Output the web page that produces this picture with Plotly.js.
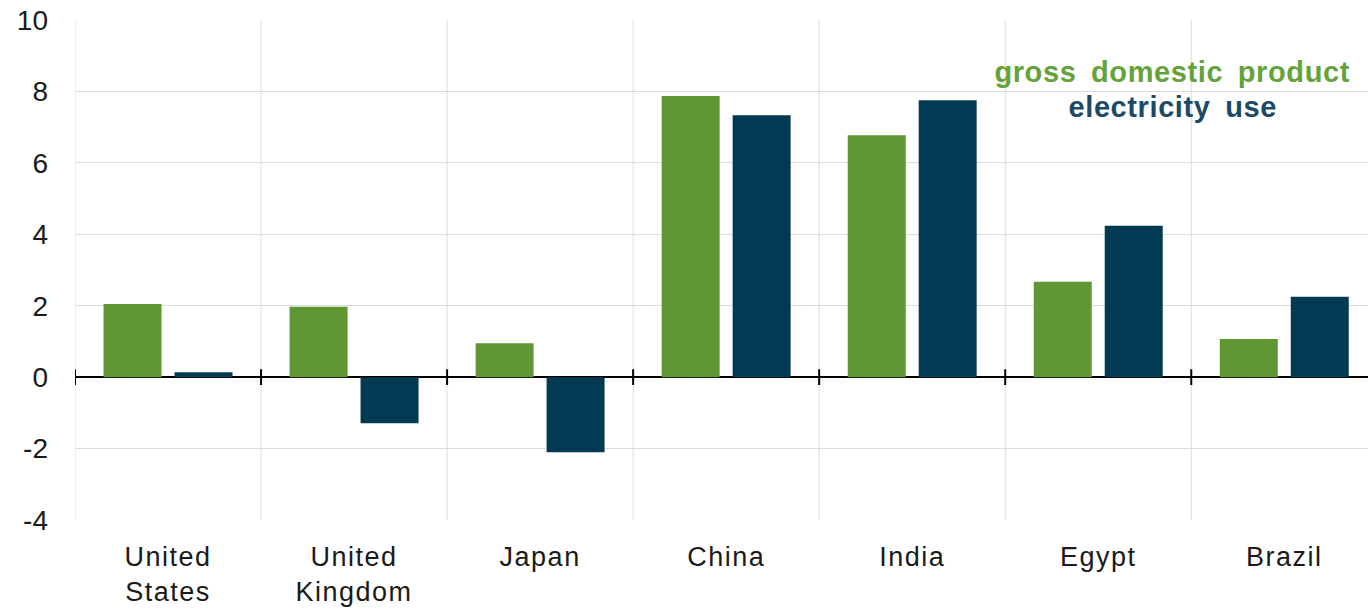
<!DOCTYPE html>
<html>
<head>
<meta charset="utf-8">
<script src="https://cdn.plot.ly/plotly-3.0.1.min.js"></script>
<style>
html,body{margin:0;padding:0;background:#fff;}
#chart{width:1368px;height:614px;}
#chart .xtick text{letter-spacing:1.5px;}
#chart .annotation-text{letter-spacing:0.6px;word-spacing:6px;}
</style>
</head>
<body>
<div id="chart"></div>
<script>
var categories = ["United<br>States", "United<br>Kingdom", "Japan", "China", "India", "Egypt", "Brazil"];
var gdpValues = [2.05, 1.97, 0.95, 7.87, 6.77, 2.67, 1.07];
var electricityValues = [0.14, -1.29, -2.1, 7.33, 7.75, 4.24, 2.25];
var yTicks = [-4, -2, 0, 2, 4, 6, 8, 10];
var seriesNames = ["gross domestic product", "electricity use"];

var green = "#5e9733";
var navy = "#023a54";

var idx = categories.map(function(c, i){ return i; });

var traces = [
  {type: "bar", x: idx, y: gdpValues, name: seriesNames[0], marker: {color: green}, hoverinfo: "y"},
  {type: "bar", x: idx, y: electricityValues, name: seriesNames[1], marker: {color: navy}, hoverinfo: "y"}
];

var shapes = [];
// category boundary gridlines and zero-line tick marks
for (var i = 0; i <= categories.length; i++) {
  shapes.push({type: "line", xref: "x", yref: "paper", x0: i - 0.5, x1: i - 0.5, y0: 0, y1: 1,
    line: {color: "#dcdcdc", width: 1}, layer: "below"});
  shapes.push({type: "line", xref: "x", yref: "y", x0: i - 0.5, x1: i - 0.5, y0: -0.22, y1: 0.22,
    line: {color: "#000", width: 2}, layer: "above"});
}

var layout = {
  width: 1368, height: 614,
  margin: {l: 75, r: 0, t: 20, b: 94},
  paper_bgcolor: "#fff", plot_bgcolor: "#fff",
  showlegend: false,
  barmode: "group", bargap: 0.237, bargroupgap: 0.183,
  font: {family: "Liberation Sans, Arial, sans-serif", color: "#1a1a1a"},
  xaxis: {
    range: [-0.5, 6.45],
    tickmode: "array", tickvals: idx, ticktext: categories,
    showgrid: false, zeroline: false, showline: false, ticks: "",
    tickfont: {size: 27, color: "#1a1a1a"},
    ticklabelstandoff: 18
  },
  yaxis: {
    range: [-4, 10],
    tickmode: "array", tickvals: yTicks, ticktext: yTicks.map(String),
    showgrid: true, gridcolor: "#dcdcdc", gridwidth: 1,
    zeroline: true, zerolinecolor: "#000", zerolinewidth: 2,
    showline: false, ticks: "",
    tickfont: {size: 28, color: "#1a1a1a"},
    ticklabelstandoff: 26
  },
  shapes: shapes,
  annotations: [
    {xref: "paper", yref: "paper", x: 0.849, y: 0.896, text: "<b>" + seriesNames[0] + "</b>", showarrow: false,
      xanchor: "center", yanchor: "middle", font: {size: 29, color: "#64a33b"}},
    {xref: "paper", yref: "paper", x: 0.849, y: 0.826, text: "<b>" + seriesNames[1] + "</b>", showarrow: false,
      xanchor: "center", yanchor: "middle", font: {size: 29, color: "#1c4a66"}}
  ]
};

Plotly.newPlot("chart", traces, layout, {displayModeBar: false, staticPlot: true});
</script>
</body>
</html>
